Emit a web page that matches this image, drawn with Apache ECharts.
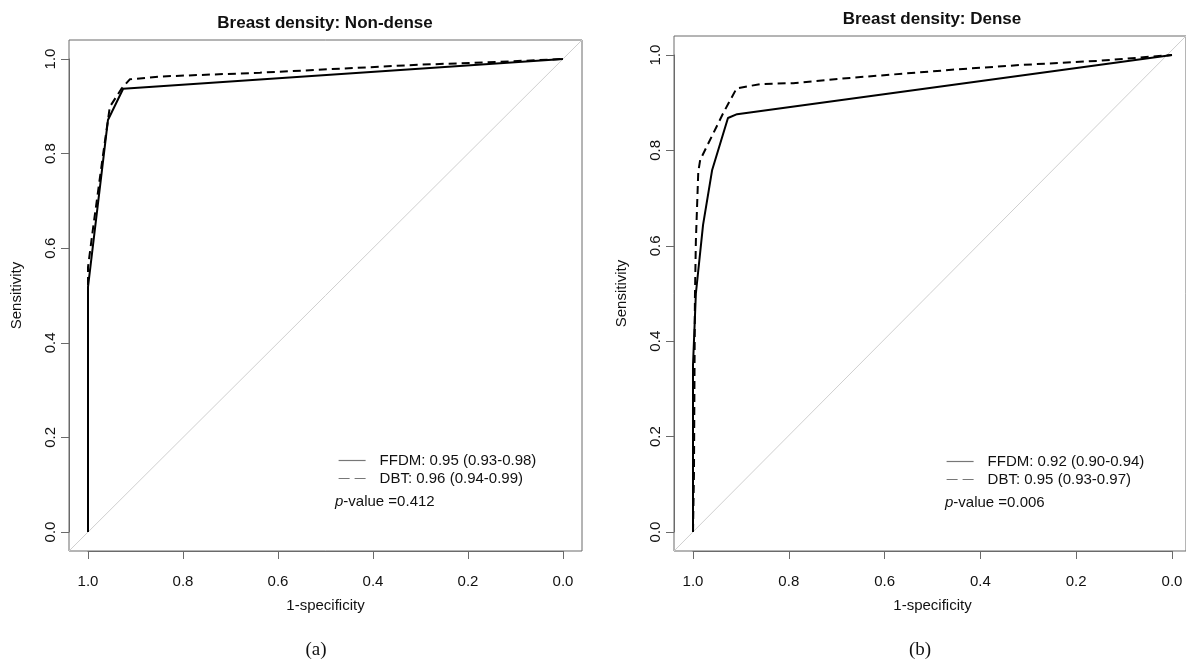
<!DOCTYPE html>
<html>
<head>
<meta charset="utf-8">
<script src="https://cdn.jsdelivr.net/npm/echarts@6/dist/echarts.min.js"></script>
<style>
  html, body { margin: 0; padding: 0; background: #fff; }
  #main { width: 1186px; height: 664px; }
</style>
</head>
<body>
<div id="main"></div>
<script>
// tick labels
var tickVals = [0, 0.2, 0.4, 0.6, 0.8, 1.0];

// chance line (runs corner to corner of the plot box)
var diagSpec = [1.04, -0.04];
var diagSens = [-0.04, 1.04];

// (a) non-dense
var ndFfdmSpec = [1.0, 1.0, 0.958, 0.926, 0.0];
var ndFfdmSens = [0.0, 0.518, 0.871, 0.937, 1.0];
var ndDbtSpec = [1.0, 1.0, 0.989, 0.968, 0.954, 0.929, 0.912, 0.848, 0.638, 0.30, 0.133, 0.0];
var ndDbtSens = [0.0, 0.56, 0.645, 0.80, 0.899, 0.938, 0.957, 0.963, 0.971, 0.988, 0.994, 1.0];

// (b) dense
var dFfdmSpec = [1.0, 1.0, 0.994, 0.979, 0.960, 0.927, 0.908, 0.0];
var dFfdmSens = [0.0, 0.35, 0.50, 0.644, 0.759, 0.868, 0.876, 1.0];
var dDbtSpec = [1.0, 0.998, 0.996, 0.994, 0.989, 0.985, 0.937, 0.909, 0.86, 0.791, 0.672, 0.46, 0.317, 0.15, 0.0];
var dDbtSens = [0.0, 0.12, 0.49, 0.61, 0.755, 0.78, 0.878, 0.930, 0.939, 0.941, 0.952, 0.969, 0.979, 0.988, 1.0];

var legendA = ['FFDM: 0.95 (0.93-0.98)', 'DBT: 0.96 (0.94-0.99)'];
var legendB = ['FFDM: 0.92 (0.90-0.94)', 'DBT: 0.95 (0.93-0.97)'];
var pA = '0.412';
var pB = '0.006';

function zip(a, b) {
  return a.map(function (v, i) { return [v, b[i]]; });
}

var FONT = 'Liberation Sans, Arial, sans-serif';
var axisGrey = '#6a6a6a';

function frameAxis(idx) {
  return { gridIndex: idx, type: 'value', min: -0.04, max: 1.04, show: false };
}

function dataX(idx) {
  return {
    gridIndex: idx, type: 'value', min: 0, max: 1, interval: 0.2, inverse: true,
    position: 'bottom', offset: 19,
    name: '1-specificity', nameLocation: 'middle', nameGap: 47,
    nameTextStyle: { fontFamily: FONT, fontSize: 15, color: '#111' },
    axisLine: { show: true, onZero: false, lineStyle: { color: axisGrey, width: 1 } },
    axisTick: { show: true, length: 8, lineStyle: { color: axisGrey } },
    axisLabel: { margin: 23, fontFamily: FONT, fontSize: 15, color: '#111',
      formatter: function (v) { return v.toFixed(1); } },
    splitLine: { show: false }
  };
}

function dataY(idx) {
  return {
    gridIndex: idx, type: 'value', min: 0, max: 1, interval: 0.2,
    position: 'left', offset: 19,
    name: 'Sensitivity', nameLocation: 'middle', nameGap: 45, nameRotate: 90,
    nameTextStyle: { fontFamily: FONT, fontSize: 15, color: '#111' },
    axisLine: { show: true, onZero: false, lineStyle: { color: axisGrey, width: 1 } },
    axisTick: { show: true, length: 8, lineStyle: { color: axisGrey } },
    axisLabel: { margin: 11, rotate: 90, fontFamily: FONT, fontSize: 15, color: '#111',
      formatter: function (v) { return v.toFixed(1); } },
    splitLine: { show: false }
  };
}

function curve(name, spec, sens, axis, dashed) {
  return {
    name: name, type: 'line', xAxisIndex: axis, yAxisIndex: axis,
    data: zip(spec, sens), symbol: 'none', animation: false,
    lineStyle: { color: '#000', width: 2, type: dashed ? [8, 5] : 'solid' },
    itemStyle: { color: '#000' }
  };
}

function diag(axis) {
  return {
    type: 'line', xAxisIndex: axis, yAxisIndex: axis, data: zip(diagSpec, diagSens),
    symbol: 'none', silent: true, animation: false,
    lineStyle: { color: '#cfcfcf', width: 1 }
  };
}

function legendAt(names, left, top) {
  return {
    data: [
      { name: names[0] },
      { name: names[1], lineStyle: { type: [11, 5] } }
    ],
    orient: 'vertical', left: left, top: top, padding: 0,
    itemWidth: 27, itemHeight: 14, itemGap: 3,
    lineStyle: { color: '#777', width: 1.2 },
    itemStyle: { opacity: 0 },
    textStyle: { fontFamily: FONT, fontSize: 15, color: '#111', padding: [0, 0, 0, 9] },
    selectedMode: false
  };
}

function label(text, x, y, font, extra) {
  var st = { text: text, font: font, fill: '#111', textAlign: 'center', textVerticalAlign: 'middle' };
  if (extra) { for (var k in extra) st[k] = extra[k]; }
  return { type: 'text', x: x, y: y, style: st };
}

var chart = echarts.init(document.getElementById('main'), null, { renderer: 'canvas' });

chart.setOption({
  backgroundColor: '#fff',
  animation: false,
  grid: [
    { left: 69, top: 40, width: 513, height: 511, show: true, borderColor: axisGrey, borderWidth: 1 },
    { left: 674, top: 36, width: 517, height: 515, show: true, borderColor: axisGrey, borderWidth: 1 },
    { left: 88, top: 59, width: 475, height: 473 },
    { left: 693, top: 55, width: 479, height: 477 }
  ],
  xAxis: [
    Object.assign(frameAxis(0), { inverse: true }),
    Object.assign(frameAxis(1), { inverse: true }),
    dataX(2),
    dataX(3)
  ],
  yAxis: [frameAxis(0), frameAxis(1), dataY(2), dataY(3)],
  legend: [legendAt(legendA, 338, 453), legendAt(legendB, 946, 454)],
  series: [
    diag(0),
    diag(1),
    curve(legendA[0], ndFfdmSpec, ndFfdmSens, 2, false),
    curve(legendA[1], ndDbtSpec, ndDbtSens, 2, true),
    curve(legendB[0], dFfdmSpec, dFfdmSens, 3, false),
    curve(legendB[1], dDbtSpec, dDbtSens, 3, true)
  ],
  graphic: [
    label('Breast density: Non-dense', 325, 23, 'bold 17px ' + FONT),
    label('Breast density: Dense', 932, 19, 'bold 17px ' + FONT),
    label('(a)', 316, 650, '19px Liberation Serif, Times New Roman, serif'),
    label('(b)', 920, 650, '19px Liberation Serif, Times New Roman, serif'),
    label('{i|p}-value =' + pA, 335, 502, '15px ' + FONT,
      { textAlign: 'left', rich: { i: { fontStyle: 'italic', fontFamily: FONT, fontSize: 15 } } }),
    label('{i|p}-value =' + pB, 945, 503, '15px ' + FONT,
      { textAlign: 'left', rich: { i: { fontStyle: 'italic', fontFamily: FONT, fontSize: 15 } } })
  ]
});
</script>
</body>
</html>
